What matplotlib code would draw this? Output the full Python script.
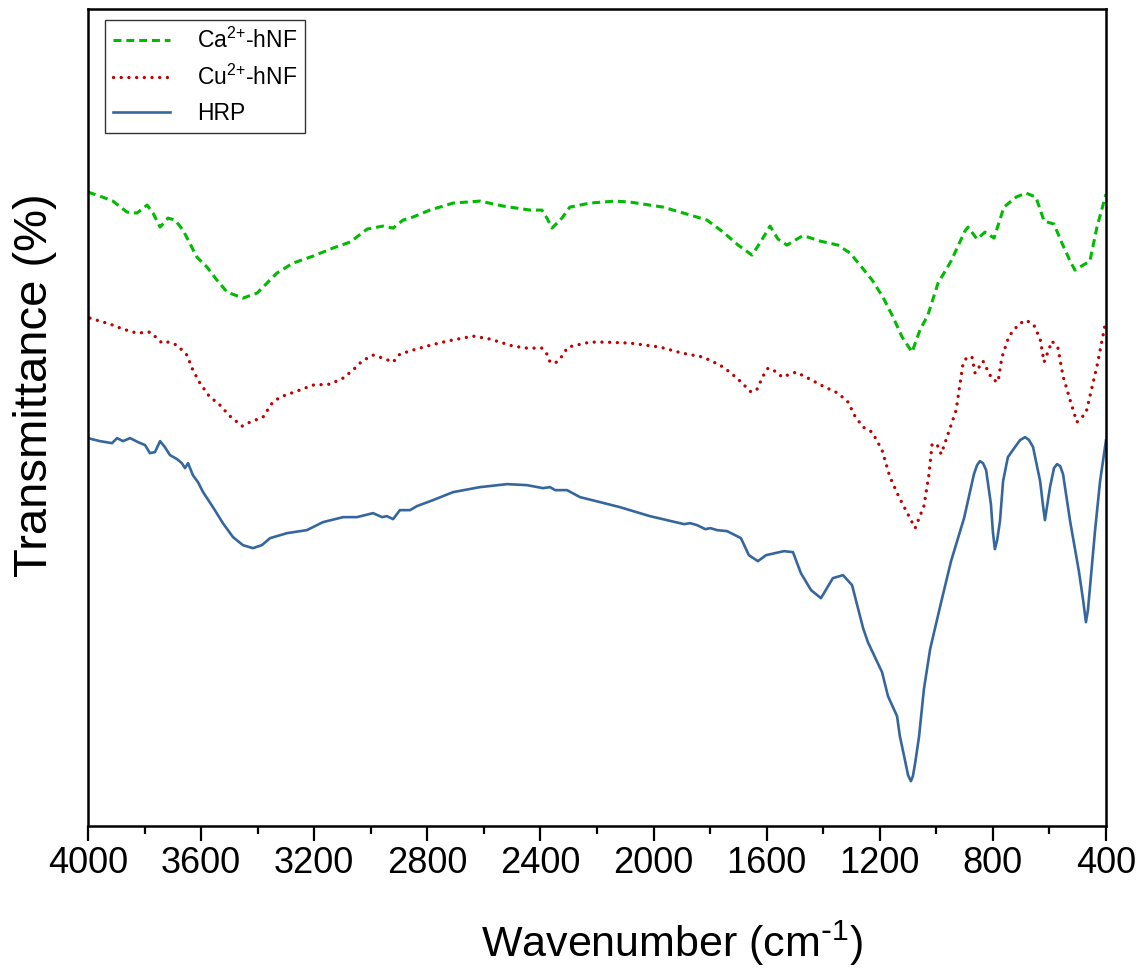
import matplotlib
matplotlib.use("Agg")
import matplotlib.pyplot as plt

plt.rcParams['font.family'] = ['Liberation Sans', 'DejaVu Sans']
plt.rcParams['mathtext.default'] = 'regular'

# FTIR spectra: wavenumber (cm-1) and transmittance (offset, arbitrary scale)
ca_wn = [4000, 3958, 3912, 3862, 3827, 3791, 3770, 3745, 3717, 3692, 3664, 3615, 3579, 3544,
         3508, 3452, 3402, 3332, 3275, 3204, 3134, 3073, 3013, 2957, 2921, 2886, 2851, 2791,
         2709, 2614, 2532, 2437, 2395, 2377, 2359, 2324, 2296, 2225, 2136, 2083, 1967, 1882,
         1811, 1754, 1701, 1652, 1624, 1588, 1560, 1528, 1475, 1454, 1411, 1348, 1305, 1270,
         1227, 1189, 1153, 1121, 1086, 1058, 1030, 994, 948, 899, 888, 856, 828, 796, 761,
         718, 683, 648, 619, 584, 559, 527, 510, 481, 457, 432, 400]
ca_t = [63.4, 63.0, 62.5, 61.4, 61.3, 62.1, 61.3, 59.9, 60.8, 60.6, 59.6, 56.9, 55.9, 54.6,
        53.4, 52.8, 53.3, 55.3, 56.3, 57.0, 57.8, 58.4, 59.7, 60.0, 59.8, 60.6, 60.9, 61.6,
        62.3, 62.5, 62.0, 61.6, 61.6, 60.8, 59.8, 60.8, 61.9, 62.3, 62.5, 62.4, 61.9, 61.2,
        60.6, 59.4, 58.1, 57.1, 58.3, 60.0, 58.7, 58.1, 59.0, 58.9, 58.5, 58.1, 57.3, 56.1,
        54.6, 52.9, 50.9, 48.9, 47.4, 49.6, 51.1, 54.3, 56.5, 59.5, 59.9, 58.7, 59.4, 58.8,
        61.9, 62.9, 63.3, 62.9, 60.5, 60.2, 58.5, 56.5, 55.6, 56.1, 56.5, 59.9, 63.2]

cu_wn = [3993, 3922, 3876, 3827, 3781, 3756, 3738, 3717, 3685, 3650, 3629, 3604, 3569, 3540,
         3498, 3455, 3427, 3381, 3349, 3321, 3261, 3204, 3144, 3098, 3063, 3031, 2992, 2957,
         2921, 2897, 2851, 2801, 2730, 2638, 2578, 2497, 2448, 2395, 2377, 2366, 2348, 2331,
         2303, 2225, 2172, 2083, 1977, 1899, 1825, 1765, 1730, 1694, 1655, 1634, 1613, 1595,
         1563, 1546, 1496, 1454, 1401, 1348, 1312, 1288, 1259, 1227, 1192, 1164, 1132, 1097,
         1075, 1044, 1026, 1015, 998, 983, 966, 930, 906, 892, 874, 863, 835, 803, 782, 768,
         743, 708, 683, 655, 633, 619, 591, 570, 552, 527, 503, 471, 432, 400]
cu_t = [50.8, 50.2, 49.7, 49.3, 49.4, 48.8, 48.3, 48.4, 48.1, 47.1, 45.6, 44.3, 42.9, 42.3,
        41.0, 40.0, 40.4, 40.9, 42.3, 42.9, 43.5, 44.1, 44.2, 44.8, 45.6, 46.5, 47.1, 46.8,
        46.4, 47.2, 47.6, 48.0, 48.5, 49.0, 48.7, 48.0, 47.8, 47.8, 47.2, 46.4, 46.3, 46.7,
        47.9, 48.4, 48.4, 48.3, 47.9, 47.3, 46.9, 46.1, 45.4, 44.5, 43.4, 43.7, 45.0, 45.8,
        45.4, 44.9, 45.4, 44.8, 44.0, 43.3, 42.4, 41.0, 39.9, 39.4, 37.6, 34.9, 32.9, 31.0,
        29.8, 32.0, 35.2, 38.2, 38.2, 37.2, 38.6, 41.6, 46.2, 46.9, 46.9, 45.3, 46.5, 44.7,
        44.4, 46.9, 49.0, 50.2, 50.6, 50.1, 48.7, 46.4, 48.5, 47.8, 45.0, 42.6, 40.4, 41.3,
        46.0, 50.6]

hrp_wn = [4000, 3958, 3915, 3897, 3876, 3851, 3823, 3798, 3781, 3763, 3745, 3728, 3710, 3685,
          3668, 3657, 3646, 3629, 3611, 3593, 3558, 3523, 3487, 3452, 3417, 3385, 3356, 3296,
          3226, 3169, 3098, 3049, 2992, 2960, 2943, 2921, 2897, 2861, 2837, 2780, 2709, 2614,
          2518, 2448, 2391, 2366, 2348, 2306, 2260, 2189, 2119, 2013, 1892, 1871, 1846, 1817,
          1799, 1775, 1740, 1691, 1663, 1631, 1602, 1539, 1507, 1479, 1443, 1408, 1366, 1330,
          1298, 1259, 1242, 1192, 1171, 1139, 1129, 1111, 1100, 1090, 1083, 1075, 1061, 1044,
          1022, 983, 948, 902, 867, 856, 846, 835, 824, 807, 800, 793, 785, 775, 764, 747,
          722, 704, 686, 672, 658, 633, 623, 616, 609, 598, 584, 573, 562, 552, 527, 496,
          481, 471, 464, 457, 439, 421, 400]
hrp_t = [38.8, 38.5, 38.3, 38.8, 38.5, 38.8, 38.4, 38.1, 37.3, 37.4, 38.5, 37.9, 37.1, 36.7,
         36.3, 35.8, 36.3, 35.1, 34.4, 33.4, 31.9, 30.3, 28.9, 28.1, 27.8, 28.1, 28.8, 29.3,
         29.6, 30.4, 30.9, 30.9, 31.3, 30.9, 31.0, 30.7, 31.6, 31.6, 32.0, 32.6, 33.4, 33.9,
         34.2, 34.1, 33.8, 33.9, 33.6, 33.6, 32.9, 32.4, 31.9, 31.0, 30.2, 30.3, 30.1, 29.7,
         29.8, 29.6, 29.5, 28.8, 27.1, 26.5, 27.1, 27.5, 27.4, 25.3, 23.6, 22.8, 24.8, 25.1,
         24.1, 19.8, 18.4, 15.4, 13.0, 11.0, 9.0, 6.6, 5.1, 4.5, 5.0, 6.3, 9.0, 13.7,
         17.7, 22.4, 26.5, 30.8, 35.2, 36.1, 36.5, 36.3, 35.6, 32.2, 29.4, 27.7, 28.6, 30.5,
         34.5, 36.9, 37.9, 38.6, 38.9, 38.6, 37.9, 34.5, 32.1, 30.6, 31.9, 33.9, 35.8, 36.2,
         36.0, 35.2, 30.5, 25.5, 22.6, 20.4, 21.6, 23.8, 29.5, 34.5, 38.6]

x_ticks = [4000, 3600, 3200, 2800, 2400, 2000, 1600, 1200, 800, 400]
x_minor = [3800, 3400, 3000, 2600, 2200, 1800, 1400, 1000, 600]

fig = plt.figure(figsize=(11.44, 9.72), dpi=100)
ax = fig.add_axes([0.0769, 0.150, 0.8899, 0.8407])

ax.plot(ca_wn, ca_t, color='#00bb00', lw=2.2, linestyle=(0, (2.6, 1.6)),
        label='Ca$^{2{+}}$-hNF')
ax.plot(cu_wn, cu_t, color='#c00000', lw=2.4, linestyle=(0, (0.01, 2.3)),
        dash_capstyle='round', label='Cu$^{2{+}}$-hNF')
ax.plot(hrp_wn, hrp_t, color='#35679e', lw=1.9, label='HRP')

ax.set_xlim(4000, 400)
ax.set_ylim(0, 81.7)
ax.set_xticks(x_ticks)
ax.set_xticks(x_minor, minor=True)
ax.set_yticks([])
ax.tick_params(axis='x', which='major', direction='out', length=11, width=1.6,
               labelsize=26, pad=3)
ax.tick_params(axis='x', which='minor', direction='out', length=5.5, width=1.6)
for sp in ax.spines.values():
    sp.set_linewidth(1.8)

ax.set_xlabel('Wavenumber (cm$^{\\text{-}1}$)', fontsize=31)
ax.xaxis.set_label_coords(0.574, -0.113)
ax.set_ylabel('Transmittance (%)', fontsize=34)
ax.yaxis.set_label_coords(-0.030, 0.54)

leg = ax.legend(loc='upper left', bbox_to_anchor=(0.0918, 0.9794),
                bbox_transform=fig.transFigure, borderaxespad=0, fontsize=16.5,
                frameon=True, fancybox=False, handlelength=2.5, handletextpad=1.15,
                labelspacing=0.52, borderpad=0.35)
leg.get_frame().set_edgecolor('black')
leg.get_frame().set_linewidth(1.0)

fig.savefig('out.png', dpi=100)
